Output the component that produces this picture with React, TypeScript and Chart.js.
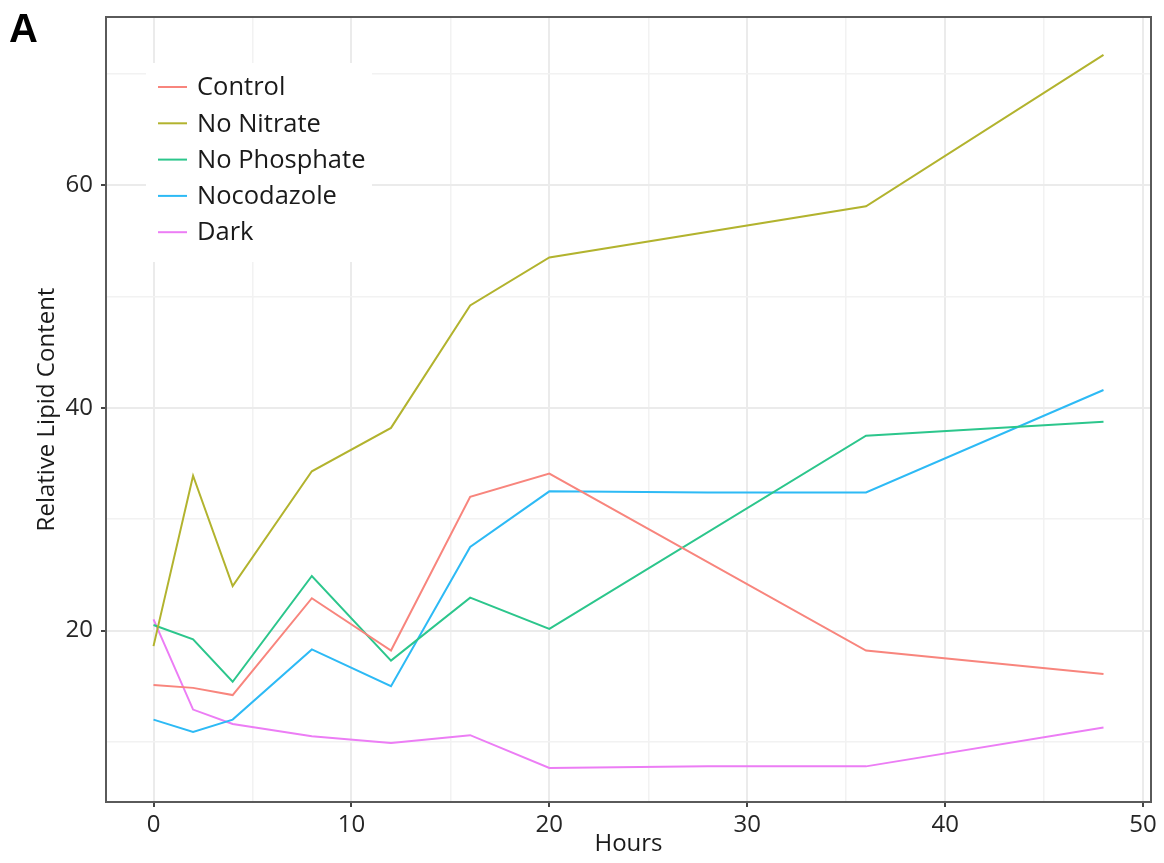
import React, { useEffect, useRef } from "react";
import { Chart, registerables } from "chart.js";

Chart.register(...registerables);

// ---- Data ----
const hours = [0, 2, 4, 8, 12, 16, 20, 28, 36, 48];
const seriesNames = ["Control", "No Nitrate", "No Phosphate", "Nocodazole", "Dark"];
const control = [15.1, 14.85, 14.2, 22.9, 18.2, 32.0, 34.1, null, 18.2, 16.1];
const noNitrate = [18.6, 33.9, 24.0, 34.3, 38.2, 49.2, 53.5, null, 58.1, 71.7];
const noPhosphate = [20.5, 19.2, 15.4, 24.9, 17.3, 22.95, 20.15, null, 37.5, 38.75];
const nocodazole = [12.0, 10.9, 12.0, 18.3, 15.0, 27.5, 32.5, 32.4, 32.4, 41.6];
const dark = [21.0, 12.9, 11.6, 10.5, 9.9, 10.6, 7.65, 7.8, 7.8, 11.3];
const seriesValues = [control, noNitrate, noPhosphate, nocodazole, dark];
const seriesColors = ["#F8857D", "#B2B32E", "#2CC68C", "#2DBAF5", "#EC7DF5"];

const xTicks = [0, 5, 10, 15, 20, 25, 30, 35, 40, 45, 50];
const xTickLabels = [0, 10, 20, 30, 40, 50];
const yTicks = [10, 20, 30, 40, 50, 60, 70];
const yTickLabels = [20, 40, 60];

const FONT = "'Open Sans', 'Liberation Sans', sans-serif";

const decorPlugin = {
  id: "decor",
  afterDraw(chart: any) {
    const { ctx, chartArea } = chart;
    ctx.save();
    // panel border
    ctx.strokeStyle = "#5a5a5a";
    ctx.lineWidth = 2;
    ctx.strokeRect(chartArea.left, chartArea.top, chartArea.right - chartArea.left, chartArea.bottom - chartArea.top);
    // legend
    ctx.fillStyle = "#ffffff";
    ctx.fillRect(146, 63, 226, 199);
    const rowY0 = 87;
    const rowStep = 36.3;
    ctx.font = `25.5px ${FONT}`;
    ctx.textBaseline = "middle";
    ctx.textAlign = "left";
    seriesNames.forEach((name, i) => {
      const y = rowY0 + i * rowStep;
      ctx.strokeStyle = seriesColors[i];
      ctx.lineWidth = 2;
      ctx.beginPath();
      ctx.moveTo(158, y);
      ctx.lineTo(187, y);
      ctx.stroke();
      ctx.fillStyle = "#1a1a1a";
      ctx.fillText(name, 197, y + 1);
    });
    // panel letter
    ctx.fillStyle = "#000000";
    ctx.font = `bold 40px 'Liberation Sans', Arial, sans-serif`;
    ctx.textBaseline = "alphabetic";
    ctx.fillText("A", 9, 42);
    ctx.restore();
  },
};

export default function App() {
  const ref = useRef<HTMLCanvasElement | null>(null);

  useEffect(() => {
    if (!ref.current) return;
    const datasets = seriesNames.map((name, s) => ({
      label: name,
      data: hours
        .map((h, i) => ({ x: h, y: seriesValues[s][i] }))
        .filter((p) => p.y !== null),
      borderColor: seriesColors[s],
      backgroundColor: seriesColors[s],
      borderWidth: 2,
      pointRadius: 0,
      tension: 0,
      fill: false,
    }));

    const chart = new Chart(ref.current, {
      type: "line",
      data: { datasets },
      options: {
        animation: false,
        responsive: false,
        devicePixelRatio: 1,
        layout: { padding: { left: 0, top: 17, right: 13, bottom: 0 } },
        plugins: { legend: { display: false }, tooltip: { enabled: false } },
        scales: {
          x: {
            type: "linear",
            min: -2.4,
            max: 50.4,
            afterBuildTicks: (axis: any) => {
              axis.ticks = xTicks.map((v) => ({ value: v }));
            },
            afterFit: (s: any) => {
              s.height = 61;
              s.paddingLeft = 0;
              s.paddingRight = 0;
            },
            border: { display: false },
            grid: {
              color: (c: any) => (c.tick && c.tick.value % 10 === 0 ? "#ebebeb" : "#f2f2f2"),
              lineWidth: (c: any) => (c.tick && c.tick.value % 10 === 0 ? 2 : 1.5),
              tickColor: (c: any) => (c.tick && xTickLabels.includes(c.tick.value) ? "#444" : "rgba(0,0,0,0)"),
              tickLength: 5,
              drawTicks: true,
            },
            ticks: {
              autoSkip: false,
              maxRotation: 0,
              padding: 4,
              color: "#262626",
              font: { size: 24, family: FONT },
              callback: (v: any) => (xTickLabels.includes(v) ? String(v) : ""),
            },
            title: {
              display: true,
              text: "Hours",
              color: "#1a1a1a",
              font: { size: 24, family: FONT },
              padding: { top: 0, bottom: 4 },
            },
          },
          y: {
            type: "linear",
            min: 4.6,
            max: 75.1,
            afterBuildTicks: (axis: any) => {
              axis.ticks = yTicks.map((v) => ({ value: v }));
            },
            afterFit: (s: any) => {
              s.width = 106;
              s.paddingTop = 0;
              s.paddingBottom = 0;
            },
            border: { display: false },
            grid: {
              color: (c: any) => (c.tick && yTickLabels.includes(c.tick.value) ? "#ebebeb" : "#f2f2f2"),
              lineWidth: (c: any) => (c.tick && yTickLabels.includes(c.tick.value) ? 2 : 1.5),
              tickColor: (c: any) => (c.tick && yTickLabels.includes(c.tick.value) ? "#444" : "rgba(0,0,0,0)"),
              tickLength: 5,
              drawTicks: true,
            },
            ticks: {
              autoSkip: false,
              padding: 8,
              color: "#262626",
              font: { size: 24, family: FONT },
              callback: (v: any) => (yTickLabels.includes(v) ? String(v) : ""),
            },
            title: {
              display: true,
              text: "Relative Lipid Content",
              color: "#1a1a1a",
              font: { size: 24, family: FONT },
              padding: { top: 33, bottom: 0 },
            },
          },
        },
      },
      plugins: [decorPlugin],
    } as any);

    return () => chart.destroy();
  }, []);

  return (
    <div style={{ position: "fixed", left: 0, top: 0, width: 1164, height: 863, background: "#fff" }}>
      <canvas ref={ref} width={1164} height={863} style={{ display: "block", width: 1164, height: 863 }} />
    </div>
  );
}
